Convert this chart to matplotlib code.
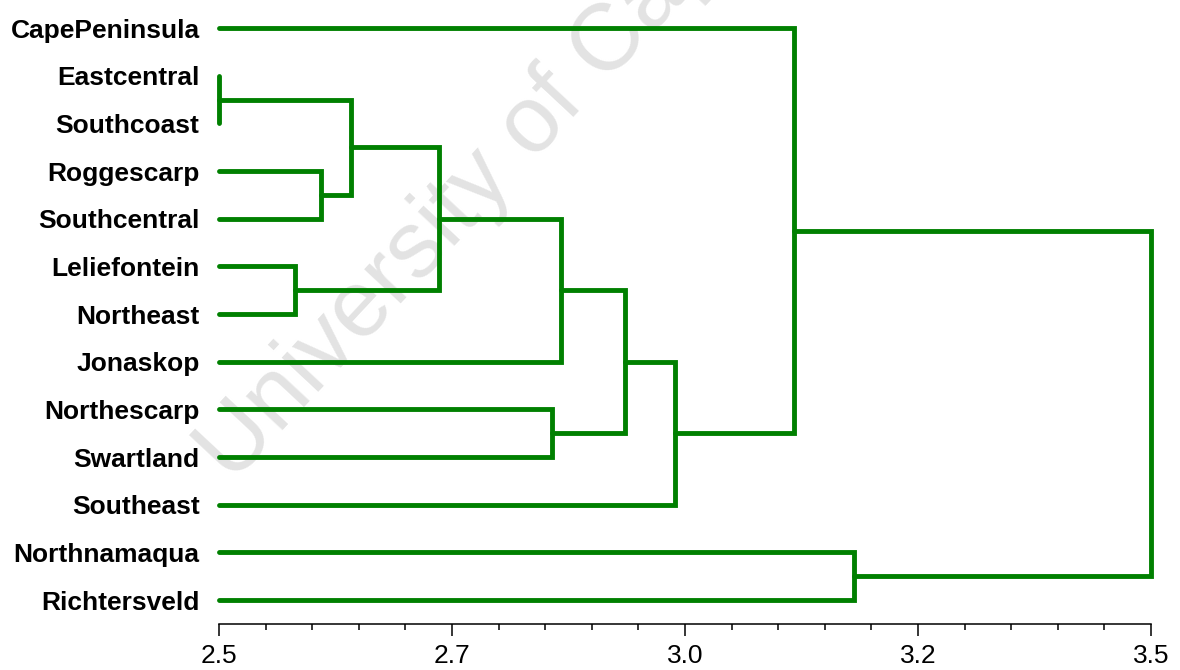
import matplotlib.pyplot as plt
from matplotlib.ticker import MultipleLocator

plt.rcParams["font.family"] = ["Liberation Sans", "DejaVu Sans"]

# leaves, top to bottom
labels = [
    "CapePeninsula", "Eastcentral", "Southcoast", "Roggescarp", "Southcentral",
    "Leliefontein", "Northeast", "Jonaskop", "Northescarp", "Swartland",
    "Southeast", "Northnamaqua", "Richtersveld",
]
# merges: (child a, child b, height); new cluster id = 13 + row
merge_a = [1, 5, 3, 13, 16, 8, 17, 19, 20, 0, 11, 22]
merge_b = [2, 6, 4, 15, 14, 9, 7, 18, 10, 21, 12, 23]
merge_h = [2.500, 2.582, 2.609, 2.642, 2.736, 2.857, 2.867, 2.936, 2.989, 3.117, 3.181, 3.500]

tick_vals = [2.5, 2.75, 3.0, 3.25, 3.5]
tick_labels = ["2.5", "2.7", "3.0", "3.2", "3.5"]

base = 2.5
green = "#008000"

fig = plt.figure(figsize=(11.8, 6.7), dpi=100)
ax = fig.add_axes([219 / 1180, 46 / 670, 932 / 1180, 614 / 670])

# positions of every node
ypos = {i: float(i) for i in range(len(labels))}
xpos = {i: base for i in range(len(labels))}
for k, (a, b, h) in enumerate(zip(merge_a, merge_b, merge_h)):
    node = len(labels) + k
    ax.plot([xpos[a], h, h, xpos[b]], [ypos[a], ypos[a], ypos[b], ypos[b]],
            color=green, lw=3.5, solid_capstyle="round", solid_joinstyle="miter",
            clip_on=False, zorder=3)
    ypos[node] = (ypos[a] + ypos[b]) / 2
    xpos[node] = h

ax.set_xlim(2.5, 3.5)
ax.set_ylim(12.503, -0.378)
for s in ["top", "right", "left"]:
    ax.spines[s].set_visible(False)
ax.spines["bottom"].set_linewidth(1.1)

ax.set_xticks(tick_vals, tick_labels, fontsize=19)
ax.xaxis.set_minor_locator(MultipleLocator(0.05))
ax.tick_params(axis="x", which="major", length=8.5, width=1.1, pad=6)
ax.tick_params(axis="x", which="minor", length=4.3, width=1.1)

ax.set_yticks(range(len(labels)), labels, fontsize=19, fontweight="bold")
ax.tick_params(axis="y", length=0, pad=14)

ax.text(232 / 1180, 1 - 484 / 670, "University of Cape Town", transform=fig.transFigure,
        rotation=47, rotation_mode="anchor", ha="left", va="baseline",
        fontsize=68, color="#e3e3e3", zorder=0, clip_on=False)

fig.savefig("out.png", dpi=100)
